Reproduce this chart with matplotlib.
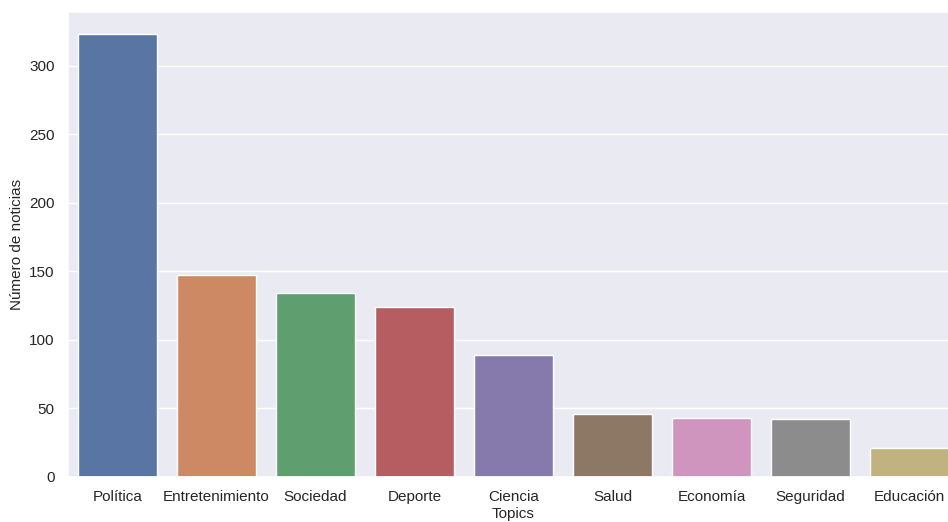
import numpy as np
import pandas as pd
import matplotlib
matplotlib.use("Agg")
import matplotlib.pyplot as plt
import seaborn as sns

# datos
topics = ["Política", "Entretenimiento", "Sociedad", "Deporte", "Ciencia",
          "Salud", "Economía", "Seguridad", "Educación"]
noticias = [323, 147, 134, 124, 89, 46, 43, 42, 21]

sns.set_theme(style="darkgrid")
plt.rcParams['font.family'] = ['Liberation Sans', 'DejaVu Sans']

fig = plt.figure(figsize=(9.48, 5.22), dpi=100)
# el eje sale por la derecha, la imagen original esta recortada
ax = fig.add_axes([68 / 948, 45 / 522, 891 / 948, 465 / 522])

df = pd.DataFrame({"Topics": topics, "Número de noticias": noticias})
sns.barplot(data=df, x="Topics", y="Número de noticias", hue="Topics",
            palette="deep", legend=False, ax=ax, edgecolor="white", linewidth=1)

ax.set_xlim(-0.5, 8.5)
ax.set_ylim(0, 339.2)
ax.tick_params(labelsize=11)
ax.set_xlabel("Topics", fontsize=11, labelpad=2)
ax.set_ylabel("Número de noticias", fontsize=11)

fig.savefig("out.png", dpi=100)
